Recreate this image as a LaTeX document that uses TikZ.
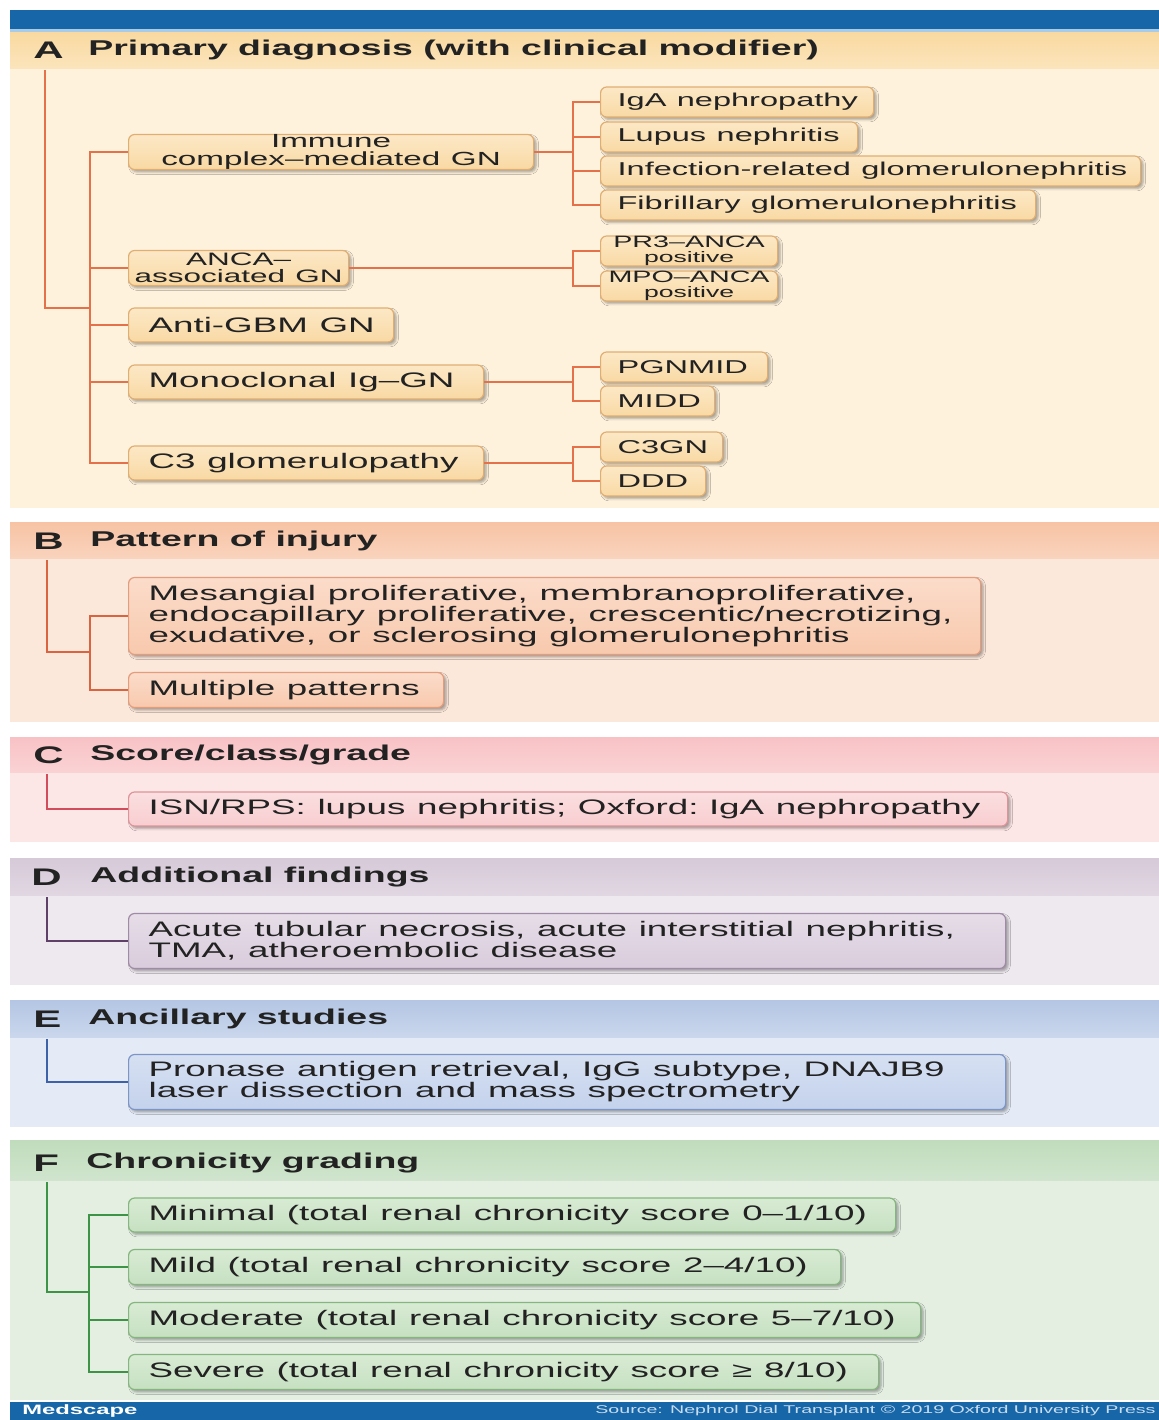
\documentclass[tikz,border=0pt]{standalone}
\usepackage{fontspec}
\setmainfont{Liberation Sans}[FakeStretch=1.75]
\usetikzlibrary{
  positioning,
  shadows.blur
}
\definecolor{barblue}{HTML}{1766A8}
\definecolor{barline}{HTML}{A9CBE6}
\definecolor{textdark}{HTML}{222222}
\definecolor{footertext}{HTML}{C9DDF0}
% A: primary diagnosis
\definecolor{Ahead}{HTML}{F9D9A0}
\definecolor{Abody}{HTML}{FEF2DD}
\definecolor{Atop}{HTML}{FCE8C6}
\definecolor{Afill}{HTML}{F9D9A4}
\definecolor{Aedge}{HTML}{E0AE72}
\definecolor{Aline}{HTML}{E4714A}
% B: pattern of injury
\definecolor{Bhead}{HTML}{F7C3A4}
\definecolor{Bbody}{HTML}{FCE7DB}
\definecolor{Btop}{HTML}{FBDCCA}
\definecolor{Bfill}{HTML}{F8C9AD}
\definecolor{Bedge}{HTML}{E39C7C}
\definecolor{Bline}{HTML}{DA6440}
% C: score
\definecolor{Chead}{HTML}{F8C2C5}
\definecolor{Cbody}{HTML}{FDE6E6}
\definecolor{Ctop}{HTML}{FBDFE0}
\definecolor{Cfill}{HTML}{F8CDD0}
\definecolor{Cedge}{HTML}{DC9499}
\definecolor{Cline}{HTML}{D24C5C}
% D: additional findings
\definecolor{Dhead}{HTML}{D6C9D8}
\definecolor{Dbody}{HTML}{EEE8EF}
\definecolor{Dtop}{HTML}{E6DDE8}
\definecolor{Dfill}{HTML}{D9CCDC}
\definecolor{Dedge}{HTML}{9F8BA5}
\definecolor{Dline}{HTML}{5E4068}
% E: ancillary studies
\definecolor{Ehead}{HTML}{B4C6E4}
\definecolor{Ebody}{HTML}{E5EBF6}
\definecolor{Etop}{HTML}{D6E0F2}
\definecolor{Efill}{HTML}{C4D2EC}
\definecolor{Eedge}{HTML}{7D95C6}
\definecolor{Eline}{HTML}{3D62AA}
% F: chronicity
\definecolor{Fhead}{HTML}{C0DCBC}
\definecolor{Fbody}{HTML}{E4EFE2}
\definecolor{Ftop}{HTML}{D8EBD4}
\definecolor{Ffill}{HTML}{C6E0C1}
\definecolor{Fedge}{HTML}{86B67F}
\definecolor{Fline}{HTML}{3E9446}

\newcommand{\boxfs}{\fontsize{10.5}{10.5}\selectfont}
\newcommand{\leaffs}{\fontsize{9.3}{9.3}\selectfont}
\newcommand{\boxspace}{\spaceskip=1.15\fontdimen2\font\relax}

\tikzset{
  boxbase/.style={
    text=textdark,
    anchor=west,
    inner xsep=0pt,
    inner ysep=0pt,
    rounded corners=3pt,
    line width=0.6pt,
    blur shadow={
      shadow xshift=1.2pt,
      shadow yshift=-1.2pt,
      shadow blur radius=1.2pt,
      shadow blur steps=4,
      shadow opacity=35
    },
  },
  entry/.style={
    boxbase,
    draw=#1edge,
    top color=#1top,
    bottom color=#1fill,
    font=\boxfs,
    align=left,
    execute at begin node={\leftskip=10pt\boxspace},
  },
  entry/.default=A,
  leaf/.style={
    entry=#1,
    font=\leaffs,
    execute at begin node={\leftskip=8.5pt\boxspace},
  },
  leaf/.default=A,
  centry/.style={
    boxbase,
    draw=#1edge,
    top color=#1top,
    bottom color=#1fill,
    align=center,
    execute at begin node={\boxspace},
  },
  centry/.default=A,
  boxw/.style={text width=#1*0.5pt},
  boxh/.style={minimum height=#1*0.5pt},
  conn/.style={
    draw=#1line,
    line width=1.2pt,
  },
  letter/.style={
    anchor=west,
    text=textdark,
    font=\bfseries\fontsize{12}{12}\selectfont,
    inner sep=0pt,
  },
  heading/.style={
    anchor=west,
    text=textdark,
    font=\bfseries\fontsize{10.7}{10.7}\selectfont,
    inner sep=0pt,
  },
}

\begin{document}
\begin{tikzpicture}[x=0.5pt, y=-0.5pt]

\useasboundingbox (0,0) rectangle (1159,1420);

% === TOP BAR ===
\fill[barblue] (10,10) rectangle (1159,29);
\fill[barline] (10,29) rectangle (1159,32);

% === A: Primary diagnosis ===

\fill[Abody] (10,32) rectangle (1159,508);
\fill[top color=Ahead, bottom color=Ahead!55!Abody] (10,32) rectangle (1159,68);
\node[letter] (Aletter) at (33,50) {A};
\node[heading] (Atitle) at (88,50) {Primary diagnosis (with clinical modifier)};

\node[centry=A, boxw=405, boxh=35, font=\fontsize{9.5}{8.6}\selectfont]
  (immune) at (128,152) {Immune\\complex–mediated GN};
\node[centry=A, boxw=220, boxh=35, font=\fontsize{9}{8.6}\selectfont]
  (anca) at (128,268) {ANCA–\\associated GN};
\node[entry=A, boxw=265, boxh=34] (antigbm) at (128,325) {Anti-GBM GN};
\node[entry=A, boxw=355, boxh=34] (monoig) at (128,382) {Monoclonal Ig–GN};
\node[entry=A, boxw=355, boxh=34] (cthree) at (128,463) {C3 glomerulopathy};

% leaves
\node[leaf=A, boxw=273, boxh=30] (iga) at (600,102) {IgA nephropathy};
\node[leaf=A, boxw=257, boxh=30] (lupus) at (600,137) {Lupus nephritis};
\node[leaf=A, boxw=540, boxh=30] (infect) at (600,171) {Infection-related glomerulonephritis};
\node[leaf=A, boxw=435, boxh=30] (fibril) at (600,205) {Fibrillary glomerulonephritis};

\node[centry=A, boxw=177, boxh=30, font=\fontsize{8.2}{7.3}\selectfont]
  (prthree) at (600,251) {PR3–ANCA\\{\fontsize{7.6}{7.3}\selectfont positive}};
\node[centry=A, boxw=177, boxh=30, font=\fontsize{8.2}{7.3}\selectfont]
  (mpo) at (600,286) {MPO–ANCA\\{\fontsize{7.6}{7.3}\selectfont positive}};

\node[leaf=A, boxw=167, boxh=30] (pgnmid) at (600,367) {PGNMID};
\node[leaf=A, boxw=114, boxh=30] (midd) at (600,401) {MIDD};
\node[leaf=A, boxw=122, boxh=30] (cthreegn) at (600,447) {C3GN};
\node[leaf=A, boxw=105, boxh=30] (ddd) at (600,481) {DDD};

% trunk and spine
\coordinate (Atrunk) at (45,70);
\coordinate (Ajoin) at (90,308);
\coordinate (Afork) at (573,0);
\draw[conn=A] (Atrunk) |- (Ajoin);
\draw[conn=A] (immune.west) -- (immune.west -| Ajoin) |- (cthree.west);
\draw[conn=A] (anca.west) -- (anca.west -| Ajoin);
\draw[conn=A] (antigbm.west) -- (antigbm.west -| Ajoin);
\draw[conn=A] (monoig.west) -- (monoig.west -| Ajoin);

% forks to leaves
\draw[conn=A] (immune.east) -- (immune.east -| Afork);
\draw[conn=A] (iga.west) -- (iga.west -| Afork) |- (fibril.west);
\draw[conn=A] (lupus.west) -- (lupus.west -| Afork);
\draw[conn=A] (infect.west) -- (infect.west -| Afork);

\draw[conn=A] (anca.east) -- (anca.east -| Afork);
\draw[conn=A] (prthree.west) -- (prthree.west -| Afork) |- (mpo.west);

\draw[conn=A] (monoig.east) -- (monoig.east -| Afork);
\draw[conn=A] (pgnmid.west) -- (pgnmid.west -| Afork) |- (midd.west);

\draw[conn=A] (cthree.east) -- (cthree.east -| Afork);
\draw[conn=A] (cthreegn.west) -- (cthreegn.west -| Afork) |- (ddd.west);

% === B: Pattern of injury ===

\fill[Bbody] (10,522) rectangle (1159,722);
\fill[top color=Bhead, bottom color=Bhead!55!Bbody] (10,522) rectangle (1159,558);
\node[letter] (Bletter) at (33,541) {B};
\node[heading] (Btitle) at (90,541) {Pattern of injury};

\node[entry=B, boxw=852, boxh=77] (pattern) at (128,616)
  {Mesangial proliferative, membranoproliferative,\\
   endocapillary proliferative, crescentic/necrotizing,\\
   exudative, or sclerosing glomerulonephritis};
\node[entry=B, boxw=315, boxh=35] (multiple) at (128,690) {Multiple patterns};

\coordinate (Btrunk) at (47,560);
\coordinate (Bjoin) at (90,652);
\draw[conn=B] (Btrunk) |- (Bjoin);
\draw[conn=B] (pattern.west) -- (pattern.west -| Bjoin) |- (multiple.west);

% === C: Score/class/grade ===

\fill[Cbody] (10,737) rectangle (1159,842);
\fill[top color=Chead, bottom color=Chead!55!Cbody] (10,737) rectangle (1159,772);
\node[letter] (Cletter) at (33,755) {C};
\node[heading] (Ctitle) at (90,755) {Score/class/grade};

\node[entry=C, boxw=879, boxh=34] (score) at (128,809)
  {ISN/RPS: lupus nephritis; Oxford: IgA nephropathy};

\coordinate (Ctrunk) at (47,774);
\draw[conn=C] (Ctrunk) |- (score.west);

% === D: Additional findings ===

\fill[Dbody] (10,858) rectangle (1159,985);
\fill[top color=Dhead, bottom color=Dhead!55!Dbody] (10,858) rectangle (1159,895);
\node[letter] (Dletter) at (31,877) {D};
\node[heading] (Dtitle) at (90,877) {Additional findings};

\node[entry=D, boxw=877, boxh=55] (findings) at (128,941)
  {Acute tubular necrosis, acute interstitial nephritis,\\
   TMA, atheroembolic disease};

\coordinate (Dtrunk) at (47,897);
\draw[conn=D] (Dtrunk) |- (findings.west);

% === E: Ancillary studies ===

\fill[Ebody] (10,1000) rectangle (1159,1127);
\fill[top color=Ehead, bottom color=Ehead!55!Ebody] (10,1000) rectangle (1159,1037);
\node[letter] (Eletter) at (33,1019) {E};
\node[heading] (Etitle) at (88,1019) {Ancillary studies};

\node[entry=E, boxw=877, boxh=55] (ancillary) at (128,1082)
  {Pronase antigen retrieval, IgG subtype, DNAJB9\\
   laser dissection and mass spectrometry};

\coordinate (Etrunk) at (47,1039);
\draw[conn=E] (Etrunk) |- (ancillary.west);

% === F: Chronicity grading ===

\fill[Fbody] (10,1140) rectangle (1159,1400);
\fill[top color=Fhead, bottom color=Fhead!55!Fbody] (10,1140) rectangle (1159,1180);
\node[letter] (Fletter) at (33,1163) {F};
\node[heading] (Ftitle) at (86,1163) {Chronicity grading};

\node[entry=F, boxw=767, boxh=34] (minimal) at (128,1215)
  {Minimal (total renal chronicity score 0–1/10)};
\node[entry=F, boxw=712, boxh=35] (mild) at (128,1267)
  {Mild (total renal chronicity score 2–4/10)};
\node[entry=F, boxw=792, boxh=35] (moderate) at (128,1320)
  {Moderate (total renal chronicity score 5–7/10)};
\node[entry=F, boxw=750, boxh=35] (severe) at (128,1372)
  {Severe (total renal chronicity score ≥ 8/10)};

\coordinate (Ftrunk) at (47,1182);
\coordinate (Fjoin) at (89,1292);
\draw[conn=F] (Ftrunk) |- (Fjoin);
\draw[conn=F] (minimal.west) -- (minimal.west -| Fjoin) |- (severe.west);
\draw[conn=F] (mild.west) -- (mild.west -| Fjoin);
\draw[conn=F] (moderate.west) -- (moderate.west -| Fjoin);

% === FOOTER ===
\fill[barblue] (10,1402) rectangle (1159,1420);
\node[anchor=west, inner sep=0pt, text=white, font=\bfseries\fontsize{6.8}{6.8}\selectfont]
  (medscape) at (22,1411) {Medscape};
\node[anchor=east, inner sep=0pt, text=footertext, font=\fontsize{5.6}{5.6}\selectfont]
  (source) at (1156,1411) {Source: Nephrol Dial Transplant © 2019 Oxford University Press};

\end{tikzpicture}
\end{document}
